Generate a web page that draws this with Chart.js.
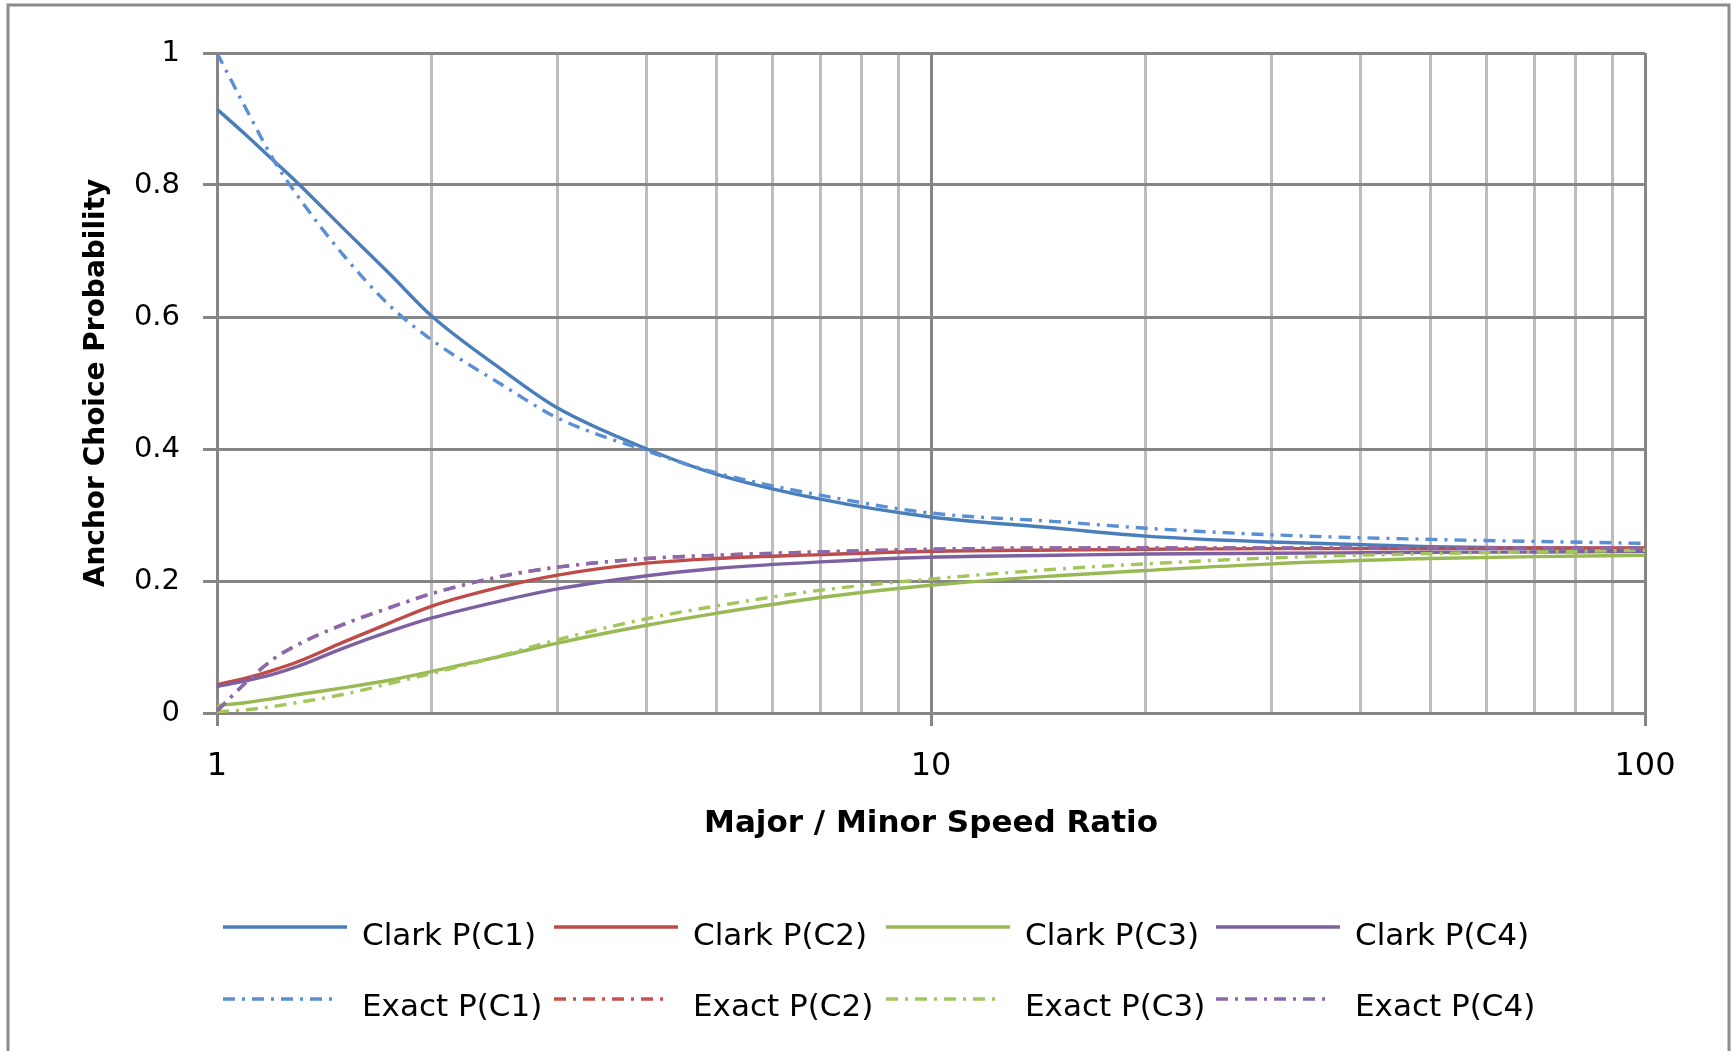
<!DOCTYPE html>
<html>
<head>
<meta charset="utf-8">
<script src="https://cdn.jsdelivr.net/npm/chart.js@4.4.1/dist/chart.umd.min.js"></script>
<style>
  html, body { margin:0; padding:0; background:#fff; overflow:hidden; }
  canvas { display:block; }
</style>
</head>
<body>
<canvas id="chart" width="1733" height="1051"></canvas>
<script>
// ─── Data ────────────────────────────────────────────────────────────────────
const ratio   = [1, 1.1, 1.2, 1.3, 1.5, 1.75, 2, 2.5, 3, 4, 5, 7, 10, 15, 20, 30, 50, 70, 100];

const clarkC1 = [0.915, 0.875, 0.837, 0.802, 0.735, 0.664, 0.601, 0.521, 0.462, 0.400, 0.362, 0.324, 0.297, 0.280, 0.268, 0.259, 0.252, 0.250, 0.249];
const clarkC2 = [0.043, 0.053, 0.065, 0.078, 0.107, 0.137, 0.162, 0.191, 0.209, 0.227, 0.234, 0.240, 0.245, 0.247, 0.248, 0.249, 0.249, 0.250, 0.250];
const clarkC3 = [0.011, 0.016, 0.022, 0.028, 0.038, 0.050, 0.063, 0.086, 0.106, 0.133, 0.151, 0.175, 0.1936, 0.208, 0.216, 0.226, 0.234, 0.237, 0.239];
const clarkC4 = [0.040, 0.049, 0.059, 0.071, 0.098, 0.124, 0.144, 0.170, 0.188, 0.208, 0.219, 0.229, 0.236, 0.239, 0.241, 0.242, 0.2435, 0.244, 0.245];

const exactC1 = [1.000, 0.914, 0.838, 0.782, 0.695, 0.616, 0.565, 0.498, 0.447, 0.397, 0.364, 0.330, 0.303, 0.290, 0.280, 0.270, 0.263, 0.260, 0.257];
const exactC2 = [0.003, 0.047, 0.082, 0.104, 0.134, 0.160, 0.181, 0.207, 0.221, 0.234, 0.239, 0.244, 0.248, 0.250, 0.250, 0.250, 0.250, 0.250, 0.250];
const exactC3 = [0.002, 0.005, 0.010, 0.016, 0.028, 0.045, 0.060, 0.087, 0.111, 0.143, 0.162, 0.186, 0.203, 0.218, 0.226, 0.235, 0.2415, 0.244, 0.2467];
const exactC4 = [0.003, 0.047, 0.082, 0.104, 0.134, 0.160, 0.181, 0.207, 0.221, 0.234, 0.239, 0.244, 0.248, 0.250, 0.250, 0.250, 0.250, 0.250, 0.250];

const seriesLabels = ['Clark P(C1)', 'Clark P(C2)', 'Clark P(C3)', 'Clark P(C4)',
                      'Exact P(C1)', 'Exact P(C2)', 'Exact P(C3)', 'Exact P(C4)'];
const seriesValues = [clarkC1, clarkC2, clarkC3, clarkC4, exactC1, exactC2, exactC3, exactC4];

const xTicks      = [1,2,3,4,5,6,7,8,9,10,20,30,40,50,60,70,80,90,100];
const xTickLabels = [1, 10, 100];

// ─── Styling ─────────────────────────────────────────────────────────────────
const COLORS = ['#4A7EBB', '#BE4B48', '#98B954', '#7D60A0',
                '#5A8FD4', '#C9524F', '#A2C65C', '#8A6AAE'];
const DASH   = [12, 7, 3, 7];
const GRID_MAJOR = '#868686';
const GRID_MINOR = '#BDBDBD';
const FONT_FAMILY = '"DejaVu Sans", "Liberation Sans", sans-serif';

const datasets = seriesLabels.map((label, i) => ({
  label,
  data: ratio.map((x, j) => ({ x, y: seriesValues[i][j] })),
  borderColor: COLORS[i],
  backgroundColor: 'transparent',
  borderWidth: 3.4,
  borderDash: i >= 4 ? DASH : [],
  pointRadius: 0,
  cubicInterpolationMode: 'monotone',
  order: 8 - i,
}));

// ─── Plugins: outer frame + two-row legend ───────────────────────────────────
const framePlugin = {
  id: 'frame',
  beforeDraw(chart) {
    const ctx = chart.ctx;
    ctx.save();
    ctx.fillStyle = '#fff';
    ctx.fillRect(0, 0, chart.width, chart.height);
    ctx.strokeStyle = '#8C8C8C';
    ctx.lineWidth = 3;
    ctx.strokeRect(8, 5, 1721, 1070);
    ctx.restore();
  }
};

const LEGEND_X = [223, 554, 886, 1216];
const legendPlugin = {
  id: 'gridLegend',
  afterDraw(chart) {
    const ctx = chart.ctx;
    ctx.save();
    ctx.font = '31px ' + FONT_FAMILY;
    ctx.fillStyle = '#000';
    ctx.textBaseline = 'alphabetic';
    chart.data.datasets.forEach((ds, i) => {
      const col = i % 4, row = Math.floor(i / 4);
      const x0 = LEGEND_X[col];
      const y  = row ? 999 : 927;
      ctx.strokeStyle = ds.borderColor;
      ctx.lineWidth = 3.5;
      ctx.setLineDash(ds.borderDash || []);
      ctx.beginPath();
      ctx.moveTo(x0, y);
      ctx.lineTo(x0 + (row ? 110 : 124), y);
      ctx.stroke();
      ctx.setLineDash([]);
      ctx.fillText(ds.label, x0 + 139, row ? 1016 : 945);
    });
    ctx.restore();
  }
};

const isMajor = v => xTickLabels.includes(v);

new Chart(document.getElementById('chart').getContext('2d'), {
  type: 'line',
  data: { datasets },
  options: {
    responsive: false,
    animation: false,
    layout: { padding: { left: 0, top: 53, right: 88, bottom: 188 } },
    plugins: {
      legend: { display: false },
      tooltip: { enabled: false },
    },
    scales: {
      x: {
        type: 'logarithmic',
        min: 1, max: 100,
        afterBuildTicks: s => { s.ticks = xTicks.map(v => ({ value: v })); },
        afterFit: s => { s.height = 150; },
        border: { color: GRID_MAJOR, width: 3 },
        grid: {
          color: c => (c.tick && isMajor(c.tick.value)) ? GRID_MAJOR : GRID_MINOR,
          tickColor: c => (c.tick && isMajor(c.tick.value)) ? GRID_MAJOR : 'transparent',
          lineWidth: 3,
          tickLength: 13,
        },
        ticks: {
          autoSkip: false, maxRotation: 0, minRotation: 0,
          padding: 21,
          color: '#000',
          font: { family: FONT_FAMILY, size: 32 },
          callback: v => isMajor(v) ? String(v) : '',
        },
        title: {
          display: true,
          text: 'Major / Minor Speed Ratio',
          color: '#000',
          font: { family: FONT_FAMILY, size: 31, weight: 'bold' },
          padding: { top: 0, bottom: 20 },
        },
      },
      y: {
        min: 0, max: 1,
        afterFit: s => { s.width = 217; },
        border: { color: GRID_MAJOR, width: 3 },
        grid: { color: GRID_MAJOR, lineWidth: 3, tickLength: 14 },
        ticks: {
          stepSize: 0.2,
          padding: 23,
          color: '#000',
          font: { family: FONT_FAMILY, size: 29 },
          callback: v => String(Math.round(v * 10) / 10),
        },
        title: {
          display: true,
          text: 'Anchor Choice Probability',
          color: '#000',
          font: { family: FONT_FAMILY, size: 28, weight: 'bold' },
          padding: { top: 80, bottom: 0 },
        },
      },
    },
  },
  plugins: [framePlugin, legendPlugin],
});
</script>
</body>
</html>
